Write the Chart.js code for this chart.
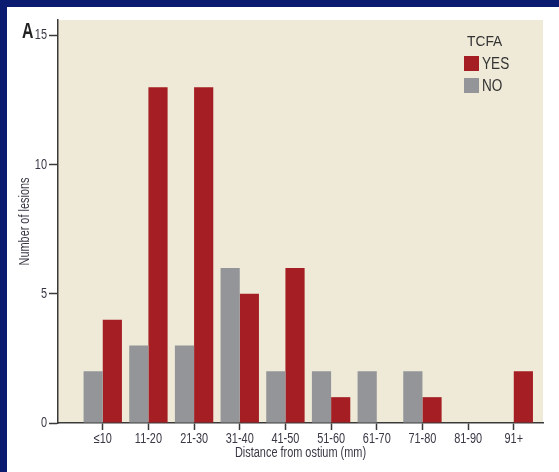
<!DOCTYPE html>
<html>
<head>
<meta charset="utf-8">
<script src="https://cdn.jsdelivr.net/npm/chart.js@4.4.0/dist/chart.umd.min.js"></script>
<style>
  html, body { margin: 0; padding: 0; width: 559px; height: 472px; overflow: hidden; background: #0b1c70; }
  #frame { position: absolute; left: 7px; top: 7px; width: 552px; height: 465px; background: #fff; }
</style>
</head>
<body>
<div id="frame"><canvas id="myChart" width="552" height="465"></canvas></div>
<script>
// Number of lesions by distance from ostium, TCFA yes / no

const categories = ['≤10', '11-20', '21-30', '31-40', '41-50', '51-60', '61-70', '71-80', '81-90', '91+'];
const yesCounts = [4, 13, 13, 5, 6, 1, 0, 1, 0, 2];
const noCounts = [2, 3, 3, 6, 2, 2, 2, 2, 0, 0];
const yTicks = [0, 5, 10, 15];

const FONT = "'Liberation Sans', Arial, sans-serif";
const RED = '#a51e23';
const GREY = '#939598';
const BEIGE = '#eeead7';
const AXIS = '#3a3a3a';
const TEXT = '#383845';

// the original uses a condensed typeface; squeeze all canvas text horizontally
const condensed = {
    id: 'condensed',
    beforeInit(chart) {
        const ctx = chart.ctx;
        const orig = ctx.fillText.bind(ctx);
        ctx._sx = 0.78;
        ctx.fillText = function(text, x, y, maxWidth) {
            const sx = ctx._sx;
            ctx.save();
            ctx.translate(x, y);
            ctx.scale(sx, 1);
            if (maxWidth !== undefined) orig(text, 0, 0, maxWidth / sx);
            else orig(text, 0, 0);
            ctx.restore();
        };
    }
};

// beige plot area, panel letter and the legend inside the plot
const extras = {
    id: 'extras',
    beforeDraw(chart) {
        const {ctx, chartArea} = chart;
        ctx.save();
        ctx.fillStyle = BEIGE;
        ctx.fillRect(chartArea.left, chartArea.top, chartArea.right - chartArea.left, chartArea.bottom - chartArea.top);
        ctx.restore();
    },
    afterDraw(chart) {
        const ctx = chart.ctx;
        ctx.save();
        ctx._sx = 0.72;
        ctx.fillStyle = '#222';
        ctx.font = 'bold 22px ' + FONT;
        ctx.textBaseline = 'alphabetic';
        ctx.fillText('A', 15, 31);

        ctx._sx = 0.92;
        ctx.fillStyle = '#333';
        ctx.font = '15px ' + FONT;
        ctx.textBaseline = 'middle';
        ctx.fillText('TCFA', 460, 35);

        ctx._sx = 0.8;
        ctx.font = '17px ' + FONT;
        const items = [chart.data.datasets[1], chart.data.datasets[0]];  // YES first, then NO
        items.forEach((ds, i) => {
            const y = 49 + i * 22;
            ctx.fillStyle = ds.backgroundColor;
            ctx.fillRect(457, y, 15, 15);
            ctx.fillStyle = '#333';
            ctx.fillText(ds.label, 475, y + 8);
        });
        ctx._sx = 0.78;
        ctx.restore();
    }
};

function createChart() {
    const ctx = document.getElementById('myChart');
    new Chart(ctx, {
        type: 'bar',
        data: {
            datasets: [{
                label: 'NO',
                data: noCounts.map((v, i) => ({x: i, y: v})),
                backgroundColor: GREY,
                borderWidth: 0
            },
            {
                label: 'YES',
                data: yesCounts.map((v, i) => ({x: i, y: v})),
                backgroundColor: RED,
                borderWidth: 0
            }]
        },
        options: {
            responsive: false,
            animation: false,
            layout: { padding: { left: 0, top: 13, right: 16, bottom: 0 } },
            datasets: { bar: { categoryPercentage: 0.84, barPercentage: 1.0 } },
            scales: {
                x: {
                    type: 'linear',
                    offset: false,
                    min: -0.98,
                    max: 9.64,
                    afterBuildTicks: scale => { scale.ticks = categories.map((c, i) => ({value: i})); },
                    afterFit: scale => { scale.height = 49; },
                    ticks: {
                        autoSkip: false,
                        maxRotation: 0,
                        padding: 1,
                        color: TEXT,
                        font: { family: FONT, size: 14 },
                        callback: v => categories[v]
                    },
                    grid: { offset: false, drawOnChartArea: false, tickLength: 7, tickColor: AXIS, tickWidth: 1.5 },
                    border: { color: AXIS, width: 1.5 },
                    title: {
                        display: true,
                        text: 'Distance from ostium (mm)',
                        color: TEXT,
                        font: { family: FONT, size: 14 },
                        padding: { top: 0, bottom: 10 }
                    }
                },
                y: {
                    min: 0,
                    max: 15.6,
                    afterBuildTicks: scale => { scale.ticks = yTicks.map(v => ({value: v})); },
                    afterFit: scale => { scale.width = 51; },
                    ticks: {
                        padding: 2,
                        color: TEXT,
                        font: { family: FONT, size: 14 }
                    },
                    grid: { drawOnChartArea: false, tickLength: 9, tickColor: AXIS, tickWidth: 1.5 },
                    border: { color: AXIS, width: 1.5 },
                    title: {
                        display: true,
                        text: 'Number of lesions',
                        color: TEXT,
                        font: { family: FONT, size: 14 },
                        padding: { top: 10, bottom: 0 }
                    }
                }
            },
            plugins: {
                legend: { display: false },
                tooltip: { enabled: false }
            }
        },
        plugins: [condensed, extras]
    });
}
createChart();
</script>
</body>
</html>
